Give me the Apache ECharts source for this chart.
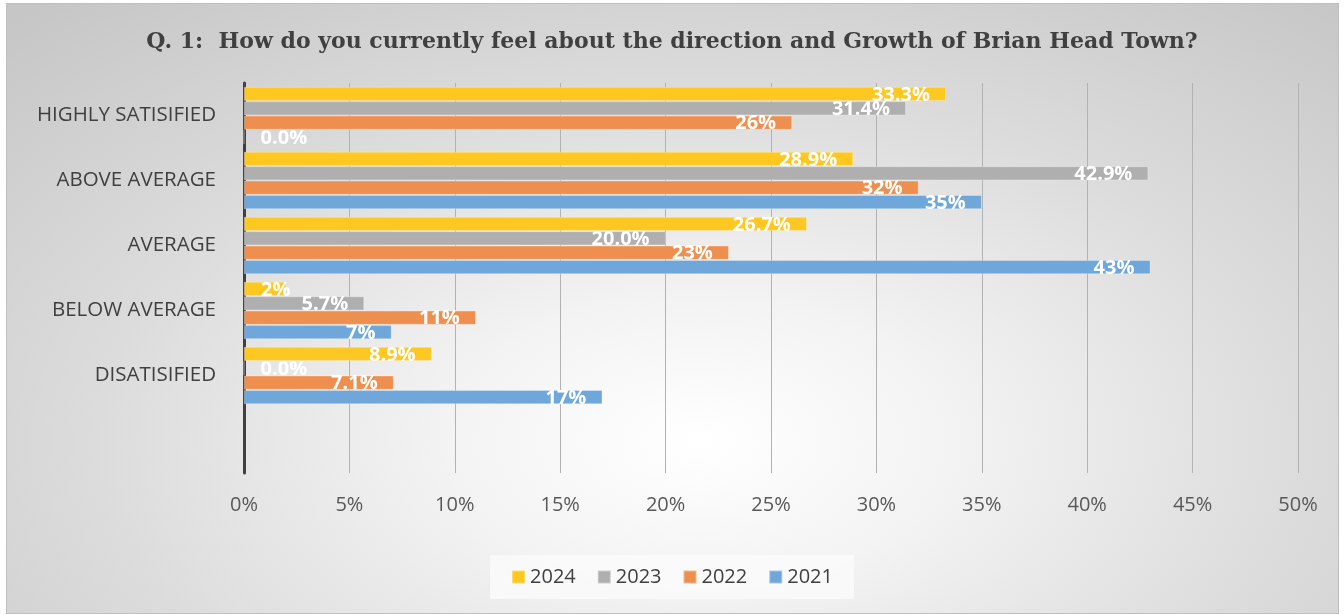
<!DOCTYPE html>
<html>
<head>
<meta charset="utf-8">
<script src="https://cdn.jsdelivr.net/npm/echarts@6/dist/echarts.min.js"></script>
<style>
  html, body { margin: 0; padding: 0; background: #fff; }
  #frame {
    position: absolute; left: 6px; top: 3px; width: 1331px; height: 609px;
    border: 1px solid #bfbfbf;
    background: radial-gradient(ellipse 75% 95% at 52% 72%, #ffffff 0%, #f3f3f3 25%, #dcdcdc 60%, #c6c6c6 100%);
  }
  #chart { position: absolute; left: 0; top: 0; width: 1344px; height: 615px; }
</style>
</head>
<body>
<div id="frame"></div>
<div id="chart"></div>
<script>
const categories = ['HIGHLY SATISIFIED', 'ABOVE AVERAGE', 'AVERAGE', 'BELOW AVERAGE', 'DISATISIFIED', ''];
const years = ['2024', '2023', '2022', '2021'];

const values2024 = [33.3, 28.9, 26.7, 2, 8.9];
const values2023 = [31.4, 42.9, 20.0, 5.7, 0];
const values2022 = [26, 32, 23, 11, 7.1];
const values2021 = [0, 35, 43, 7, 17];

const labels2024 = ['33.3%', '28.9%', '26.7%', '2%', '8.9%'];
const labels2023 = ['31.4%', '42.9%', '20.0%', '5.7%', '0.0%'];
const labels2022 = ['26%', '32%', '23%', '11%', '7.1%'];
const labels2021 = ['0.0%', '35%', '43%', '7%', '17%'];

const xTicks = [0, 5, 10, 15, 20, 25, 30, 35, 40, 45, 50];

const colors = ['#ffc821', '#afafaf', '#ef8f4f', '#6fa7da'];
const allValues = [values2024, values2023, values2022, values2021];
const allLabels = [labels2024, labels2023, labels2022, labels2021];

const chart = echarts.init(document.getElementById('chart'), null, { renderer: 'canvas' });

// labels that don't fit inside the bar end sit at the bar start instead
const series = years.map((year, s) => ({
  name: year,
  type: 'bar',
  barWidth: 14,
  barGap: '3%',
  itemStyle: {
    color: colors[s],
    borderColor: 'rgba(255,255,255,0.35)',
    borderWidth: 0.8,
  },
  label: {
    show: true,
    position: 'insideRight',
    distance: 16,
    offset: [0, 1],
    color: '#ffffff',
    fontFamily: 'Open Sans',
    fontWeight: 'bold',
    fontSize: 20,
    formatter: (p) => allLabels[s][p.dataIndex],
  },
  data: allValues[s].map((v) => (v < 3
    ? { value: v, label: { position: 'insideLeft', distance: 17 } }
    : v)),
}));

const opts = {
  animation: false,
  color: colors,
  title: {
    text: 'Q. 1:  How do you currently feel about the direction and Growth of Brian Head Town?',
    left: 'center',
    top: 26,
    textStyle: {
      fontFamily: 'DejaVu Serif',
      fontWeight: 'bold',
      fontSize: 22,
      color: '#404040',
    },
  },
  legend: {
    data: years,
    bottom: 16,
    left: 'center',
    icon: 'rect',
    itemWidth: 13,
    itemHeight: 13,
    itemGap: 21,
    padding: [12, 21, 12, 21],
    backgroundColor: 'rgba(250,250,250,0.85)',
    textStyle: {
      fontFamily: 'Open Sans',
      fontSize: 20,
      color: '#404040',
    },
  },
  grid: {
    left: 244,
    right: 46,
    top: 83,
    bottom: 142,
    containLabel: false,
  },
  xAxis: {
    type: 'value',
    min: xTicks[0],
    max: xTicks[xTicks.length - 1],
    interval: 5,
    axisLine: { show: false },
    axisTick: { show: false },
    splitLine: { show: true, lineStyle: { color: '#b2b2b2', width: 1 } },
    axisLabel: {
      margin: 22,
      formatter: '{value}%',
      fontFamily: 'Open Sans',
      fontSize: 20,
      color: '#595959',
    },
  },
  yAxis: {
    type: 'category',
    inverse: true,
    data: categories,
    axisLine: { show: true, lineStyle: { color: '#404040', width: 3 } },
    axisTick: { show: false },
    splitLine: { show: false },
    axisLabel: {
      margin: 28,
      fontFamily: 'Open Sans',
      fontSize: 20.5,
      color: '#404040',
    },
  },
  series,
};

chart.setOption(opts);
</script>
</body>
</html>
